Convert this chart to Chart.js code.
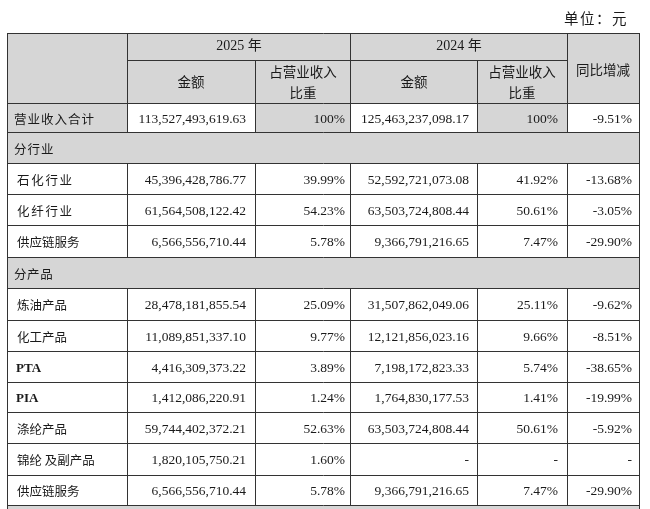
<!DOCTYPE html>
<html>
<head>
<meta charset="utf-8">
<script src="https://cdn.jsdelivr.net/npm/chart.js@4.4.1/dist/chart.umd.min.js"></script>
<style>
html,body{margin:0;padding:0;background:#fff}
#wrap{width:650px;height:509px}
</style>
</head>
<body>
<div id="wrap"><canvas id="c" width="650" height="509"></canvas></div>
<script>
// table data
const rowLabels = ["营业收入合计","分行业","石化行业","化纤行业","供应链服务","分产品","炼油产品","化工产品","PTA","PIA","涤纶产品","锦纶 及副产品","供应链服务"];
const sectionRows = ["分行业","分产品"];
const amount2025 = [113527493619.63,null,45396428786.77,61564508122.42,6566556710.44,null,28478181855.54,11089851337.10,4416309373.22,1412086220.91,59744402372.21,1820105750.21,6566556710.44];
const share2025 = [100,null,39.99,54.23,5.78,null,25.09,9.77,3.89,1.24,52.63,1.60,5.78];
const amount2024 = [125463237098.17,null,52592721073.08,63503724808.44,9366791216.65,null,31507862049.06,12121856023.16,7198172823.33,1764830177.53,63503724808.44,null,9366791216.65];
const share2024 = [100,null,41.92,50.61,7.47,null,25.11,9.66,5.74,1.41,50.61,null,7.47];
const yoyChange = [-9.51,null,-13.68,-3.05,-29.90,null,-9.62,-8.51,-38.65,-19.99,-5.92,null,-29.90];
const years = ["2025 年","2024 年"];

// layout (table grid in page units)
const colEdges = [7,127,255,350,477,567,639];
const rowEdges = [33,60,103,132,163,194,225,257,288,320,351,382,412,443,475,505,540];
const GREY = "#d6d6d6";
const LINE = "#333";
const NUM_FONT = '13.5px "Liberation Serif", "Noto Sans CJK SC"';
const CJK_FONT = '12.5px "Noto Sans CJK SC"';
const spacing = {"营业收入合计":"1px","分行业":"1px","分产品":"0.6px","石化行业":"1.7px","化纤行业":"1.7px"};

function fmtAmount(v){
  if(v===null) return "-";
  return v.toLocaleString("en-US",{minimumFractionDigits:2,maximumFractionDigits:2});
}
function fmtPct(v){
  if(v===null) return "-";
  return (v===100 ? "100" : v.toFixed(2)) + "%";
}

const tablePlugin = {
  id:"table",
  afterDraw(chart){
    const {ctx, scales:{x,y}} = chart;
    const X = v => Math.round(x.getPixelForValue(v));
    const Y = v => Math.round(y.getPixelForValue(v));
    const c = colEdges, r = rowEdges;
    ctx.save();
    ctx.fillStyle = "#1a1a1a";

    // unit label
    ctx.font = '14.5px "Noto Sans CJK SC"';
    ctx.letterSpacing = "1.5px";
    ctx.textAlign = "right"; ctx.textBaseline = "middle";
    ctx.fillText("单位：元", X(628), Y(18));
    ctx.letterSpacing = "0px";

    // header background
    ctx.fillStyle = GREY;
    ctx.fillRect(X(c[0]),Y(r[0]),X(c[6])-X(c[0]),Y(r[2])-Y(r[0]));

    // row backgrounds
    rowLabels.forEach((lab,i)=>{
      const top = Y(r[i+2]), bot = Y(r[i+3]);
      if(sectionRows.includes(lab)){
        ctx.fillRect(X(c[0]),top,X(c[6])-X(c[0]),bot-top);
      } else if(i===0){
        ctx.fillRect(X(c[0]),top,X(c[1])-X(c[0]),bot-top);
        ctx.fillRect(X(c[2]),top,X(c[3])-X(c[2]),bot-top);
        ctx.fillRect(X(c[4]),top,X(c[5])-X(c[4]),bot-top);
      }
    });
    // next section (cut off)
    const last = rowLabels.length+2;
    ctx.fillRect(X(c[0]),Y(r[last]),X(c[6])-X(c[0]),Y(r[last+1])-Y(r[last]));

    // grid lines
    ctx.strokeStyle = LINE; ctx.lineWidth = 1;
    const h = (x0,x1,yy)=>{ctx.beginPath();ctx.moveTo(X(x0),Y(yy)+0.5);ctx.lineTo(X(x1)+1,Y(yy)+0.5);ctx.stroke();};
    const v = (xx,y0,y1)=>{ctx.beginPath();ctx.moveTo(X(xx)+0.5,Y(y0));ctx.lineTo(X(xx)+0.5,Y(y1));ctx.stroke();};
    h(c[0],c[6],r[0]);
    h(c[1],c[5],r[1]);
    h(c[0],c[6],r[2]);
    [c[0],c[1],c[3],c[5],c[6]].forEach(xx=>v(xx,r[0],r[2]));
    [c[2],c[4]].forEach(xx=>v(xx,r[1],r[2]));
    rowLabels.forEach((lab,i)=>{
      const y0 = r[i+2], y1 = r[i+3];
      h(c[0],c[6],y1);
      const cols = sectionRows.includes(lab) ? [c[0],c[6]] : c;
      cols.forEach(xx=>v(xx,y0,y1));
    });
    v(c[0],r[last],r[last+1]); v(c[6],r[last],r[last+1]);

    // header text
    ctx.fillStyle = "#1a1a1a";
    ctx.textAlign = "center";
    ctx.font = '14px "Liberation Serif", "Noto Sans CJK SC"';
    ctx.fillText(years[0], X((c[1]+c[3])/2), Y(46));
    ctx.fillText(years[1], X((c[3]+c[5])/2), Y(46));
    ctx.font = '13.5px "Noto Sans CJK SC"';
    ctx.fillText("金额", X((c[1]+c[2])/2), Y(82));
    ctx.fillText("金额", X((c[3]+c[4])/2), Y(82));
    ctx.fillText("占营业收入", X((c[2]+c[3])/2), Y(72));
    ctx.fillText("比重", X((c[2]+c[3])/2), Y(93));
    ctx.fillText("占营业收入", X((c[4]+c[5])/2), Y(72));
    ctx.fillText("比重", X((c[4]+c[5])/2), Y(93));
    ctx.fillText("同比增减", X((c[5]+c[6])/2), Y(70));

    // body text
    rowLabels.forEach((lab,i)=>{
      const yc = Y((r[i+2]+r[i+3])/2)+1;
      const section = sectionRows.includes(lab);
      ctx.textAlign = "left";
      if(/^[A-Z]+$/.test(lab)){
        ctx.font = 'bold 13px "Liberation Serif"';
        ctx.fillText(lab, X(16), yc+1);
      } else {
        ctx.font = CJK_FONT;
        ctx.letterSpacing = spacing[lab] || "0px";
        ctx.fillText(lab, X(i===0||section ? 14 : 17), yc);
      }
      ctx.letterSpacing = "0px";
      if(section) return;
      ctx.font = NUM_FONT;
      ctx.textAlign = "right";
      ctx.fillText(fmtAmount(amount2025[i]), X(c[2]-9), yc);
      ctx.fillText(fmtPct(share2025[i]), X(c[3]-5), yc);
      ctx.fillText(fmtAmount(amount2024[i]), X(c[4]-8), yc);
      ctx.fillText(fmtPct(share2024[i]), X(c[5]-9), yc);
      ctx.fillText(fmtPct(yoyChange[i]), X(c[6]-7), yc);
    });
    ctx.restore();
  }
};

new Chart(document.getElementById("c"),{
  type:"scatter",
  data:{datasets:[{data:[]}]},
  options:{
    responsive:false,
    animation:false,
    events:[],
    layout:{padding:0},
    plugins:{legend:{display:false},tooltip:{enabled:false}},
    scales:{
      x:{type:"linear",min:0,max:650,display:false},
      y:{type:"linear",min:0,max:509,reverse:true,display:false}
    }
  },
  plugins:[tablePlugin]
});
</script>
</body>
</html>
